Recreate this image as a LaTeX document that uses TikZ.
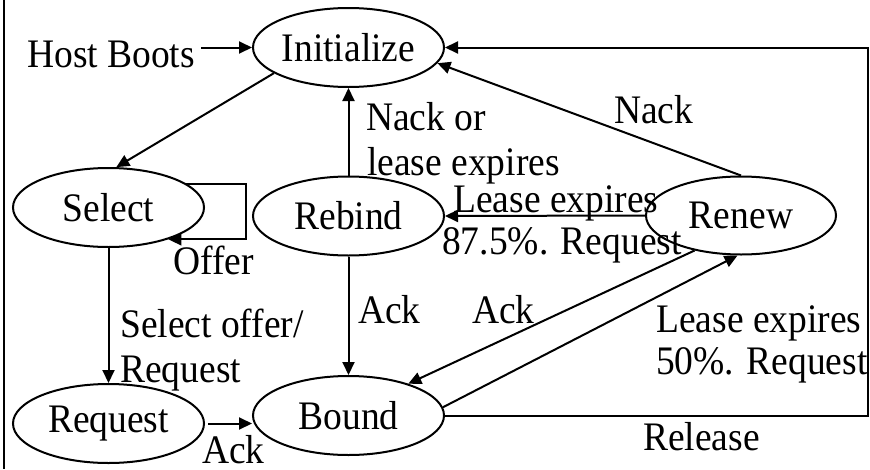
\documentclass[tikz,border=0pt]{standalone}
\usepackage{graphicx}
\usepackage{fontspec}
\setmainfont{Liberation Serif}
\usetikzlibrary{arrows.meta,shapes.geometric}
\newcommand\fs{\fontsize{37.5}{45}\selectfont}
\newcommand\vs[1]{\scalebox{1}[1.08]{#1}}
\begin{document}
\begin{tikzpicture}[x=1pt,y=-1pt,
  st/.style={ellipse,draw,line width=2pt,minimum width=191pt,minimum height=79pt,inner sep=0pt,font=\fs},
  lbl/.style={anchor=base west,inner sep=0pt,font=\fs},
  arr/.style={line width=2pt,-{Triangle[length=13pt,width=12pt]}},
  ln/.style={line width=2pt}]
\useasboundingbox (0,0) rectangle (870,469);
\draw[line width=2.5pt] (4,0) -- (4,469);

% states
\node[st] (init)    at (348.5,47.5) {\vs{Initialize}};
\node[st] (select)  at (108.5,207.5) {\vs{Select}};
\node[st] (rebind)  at (348.5,216) {\vs{Rebind}};
\node[st,minimum width=190pt,minimum height=78pt] (renew) at (741,215.5) {\vs{Renew}};
\node[st] (request) at (108.5,423.5) {\vs{Request}};
\node[st] (bound)   at (348.5,415.5) {\vs{Bound}};
\coordinate (corner) at (868,0);

% labels
\node[lbl] (hb)     at (27,67)   {\vs{Host Boots}};
\node[lbl] (nack1)  at (366,130) {\vs{Nack or}};
\node[lbl] (nack2)  at (367,175) {\vs{lease expires}};
\node[lbl] (nack)   at (614,123) {\vs{Nack}};
\node[lbl] (le1)    at (453,212) {\vs{Lease expires}};
\node[lbl] (le2)    at (442,254) {\vs{87.5\%. Request}};
\node[lbl] (offer)  at (173,274) {\vs{Offer}};
\node[lbl] (so1)    at (120,337) {\vs{Select offer/}};
\node[lbl] (so2)    at (120,382) {\vs{Request}};
\node[lbl] (ack1)   at (358,323) {\vs{Ack}};
\node[lbl] (ack2)   at (472,323) {\vs{Ack}};
\node[lbl] (lf1)    at (656,332) {\vs{Lease expires}};
\node[lbl] (lf2)    at (656,374) {\vs{50\%. Request}};
\node[lbl] (rel)    at (643,450) {\vs{Release}};
\node[lbl] (ack3)   at (202,463) {\vs{Ack}};

% connectors
\draw[arr,shorten <=6pt] (hb.east |- init.west) -- (init.west);
\draw[arr] (init.199) -- (select.79);
\draw[arr] (select.17) -- ++(60,0) |- (select.-28);
\draw[arr] (rebind.north) -- (init.south);
\draw[arr] (rebind.south) -- (bound.north);
\draw[arr] (renew.west) -- (rebind.east);
\draw[arr] (renew.north) -- (init.-10);
\draw[arr] (select.south) -- (request.north);
\draw[arr,shorten <=3pt] (request.east) -- (request.east -| bound.west);
\draw[arr] (renew.217) -- (bound.28);
\draw[arr] (bound.5) -- (renew.-95);
\draw[arr] (bound.east) -- (bound.east -| corner) |- (init.east);
\end{tikzpicture}
\end{document}
